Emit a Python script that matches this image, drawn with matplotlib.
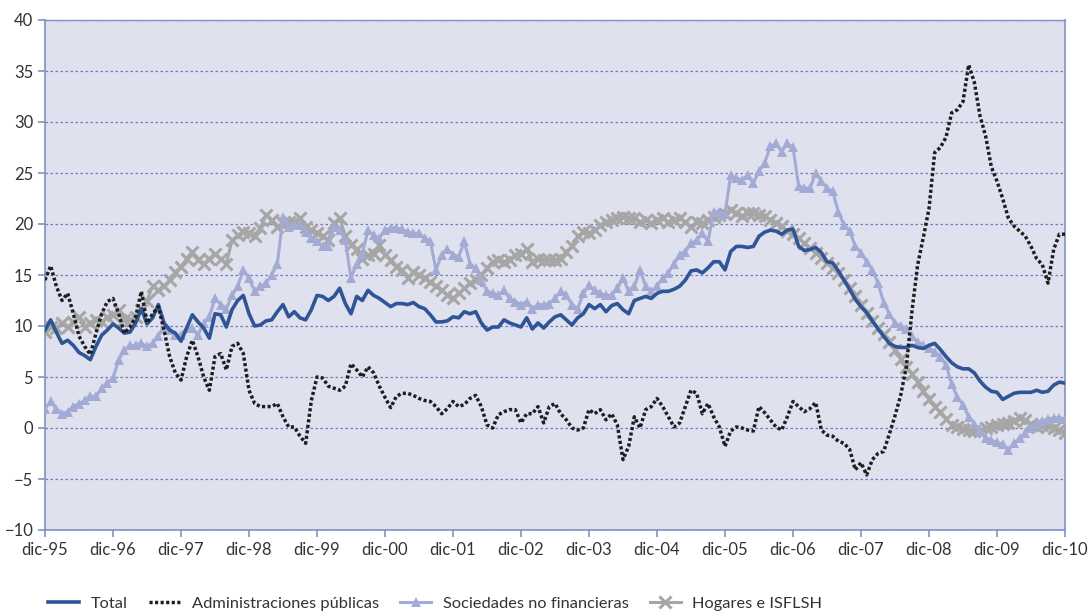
import matplotlib
matplotlib.use("Agg")
import matplotlib.pyplot as plt
import numpy as np

# Monthly growth rates (%), Dec-1995 .. Dec-2010
total = [
    9.6, 10.6, 9.4, 8.3, 8.6, 8.1, 7.4, 7.1, 6.7, 8.0, 9.1, 9.6,
    10.2, 9.8, 9.3, 9.4, 10.3, 11.7, 10.2, 10.8, 12.1, 10.3, 9.6, 9.3,
    8.5, 9.8, 11.1, 10.4, 9.8, 8.8, 11.2, 11.1, 9.9, 11.6, 12.5, 13.0,
    11.2, 10.0, 10.1, 10.5, 10.6, 11.4, 12.1, 10.9, 11.4, 10.8, 10.6, 11.6,
    13.0, 12.9, 12.5, 12.9, 13.7, 12.2, 11.2, 12.9, 12.5, 13.5, 13.0, 12.7,
    12.3, 11.9, 12.2, 12.2, 12.1, 12.3, 11.9, 11.7, 11.1, 10.4, 10.4, 10.5,
    10.9, 10.8, 11.4, 11.2, 11.4, 10.3, 9.6, 9.9, 9.9, 10.6, 10.3, 10.1,
    9.9, 10.8, 9.7, 10.3, 9.8, 10.4, 10.9, 11.1, 10.6, 10.1, 10.8, 11.2,
    12.1, 11.7, 12.1, 11.4, 12.0, 12.2, 11.6, 11.2, 12.5, 12.7, 12.9, 12.7,
    13.2, 13.4, 13.4, 13.6, 13.9, 14.5, 15.4, 15.5, 15.2, 15.7, 16.3, 16.3,
    15.5, 17.3, 17.8, 17.8, 17.7, 17.8, 18.8, 19.2, 19.4, 19.3, 19.0, 19.4,
    19.5, 17.8, 17.4, 17.5, 17.7, 17.2, 16.3, 16.2, 15.4, 14.5, 13.6, 12.6,
    11.9, 11.3, 10.5, 9.7, 9.0, 8.3, 8.0, 7.9, 7.9, 8.1, 7.9, 7.8,
    8.1, 8.3, 7.7, 7.0, 6.4, 6.0, 5.8, 5.8, 5.4, 4.6, 4.0, 3.6,
    3.5, 2.8, 3.1, 3.4, 3.5, 3.5, 3.5, 3.7, 3.5, 3.6, 4.2, 4.5,
    4.4,
]

admin_publicas = [
    14.5, 15.9, 13.9, 12.5, 13.2, 11.2, 9.0, 8.0, 7.2, 9.3, 11.2, 12.4,
    12.7, 11.2, 9.3, 9.9, 10.9, 13.4, 10.3, 11.2, 11.9, 9.6, 7.0, 5.4,
    4.7, 7.0, 8.6, 7.0, 5.0, 3.7, 7.0, 7.3, 5.7, 8.0, 8.3, 7.3,
    3.7, 2.4, 2.1, 2.1, 2.1, 2.4, 1.1, 0.1, 0.1, -0.8, -1.5, 2.7,
    5.0, 4.9, 4.1, 3.9, 3.7, 4.1, 6.3, 5.7, 5.0, 6.0, 5.4, 4.1,
    3.0, 2.0, 3.1, 3.4, 3.4, 3.2, 2.9, 2.7, 2.6, 2.1, 1.4, 1.9,
    2.6, 2.1, 2.3, 2.9, 3.2, 2.1, 0.3, 0.0, 1.3, 1.6, 1.8, 1.8,
    0.5, 1.4, 1.4, 2.1, 0.5, 2.1, 2.4, 1.4, 0.8, 0.0, -0.2, 0.0,
    1.8, 1.4, 1.8, 0.8, 1.4, 0.3, -3.1, -1.8, 1.1, 0.0, 1.8, 2.1,
    2.9, 2.1, 1.1, 0.1, 0.5, 2.1, 3.7, 3.4, 1.4, 2.4, 1.1, 0.1,
    -1.8, -0.3, 0.1, 0.0, -0.2, -0.3, 2.1, 1.5, 0.8, 0.1, -0.2, 1.1,
    2.6, 2.1, 1.6, 1.9, 2.5, -0.2, -0.7, -0.8, -1.3, -1.5, -2.1, -4.1,
    -3.4, -4.6, -3.1, -2.5, -2.3, -0.6, 1.2, 3.2, 6.0, 11.5, 16.0, 18.7,
    21.5, 27.0, 27.5, 28.5, 30.9, 31.2, 32.0, 35.6, 33.9, 30.6, 28.6, 25.6,
    24.2, 22.5, 20.6, 19.8, 19.3, 18.8, 17.8, 16.6, 16.0, 14.2, 17.5, 19.0,
    19.0,
]

sociedades = [
    1.9, 2.6, 1.9, 1.4, 1.6, 2.1, 2.4, 2.7, 3.1, 3.1, 3.9, 4.4,
    4.9, 6.7, 7.6, 8.1, 8.1, 8.3, 8.0, 8.3, 9.0, 9.9, 9.6, 9.1,
    9.1, 9.8, 9.8, 9.1, 10.3, 10.9, 12.7, 12.1, 11.7, 13.0, 13.9, 15.5,
    14.7, 13.4, 13.9, 14.2, 15.0, 16.1, 20.7, 19.7, 19.9, 19.9, 19.2, 18.6,
    18.3, 17.8, 17.8, 19.7, 19.4, 18.4, 14.7, 16.1, 17.1, 19.4, 18.9, 18.6,
    19.4, 19.6, 19.6, 19.5, 19.2, 19.1, 19.1, 18.6, 18.3, 15.5, 17.0, 17.5,
    17.0, 16.8, 18.3, 16.1, 15.7, 14.5, 13.4, 13.2, 13.0, 13.5, 12.7, 12.4,
    12.1, 12.4, 11.7, 12.1, 12.1, 12.2, 12.7, 13.4, 13.0, 12.1, 11.7, 13.2,
    14.0, 13.5, 13.2, 13.0, 13.0, 13.7, 14.7, 13.4, 13.9, 15.5, 13.9, 13.4,
    13.9, 14.7, 15.2, 16.1, 17.0, 17.3, 18.1, 18.4, 19.1, 18.3, 21.2, 21.2,
    21.0, 24.8, 24.5, 24.3, 24.8, 24.0, 25.2, 26.0, 27.6, 27.9, 27.1, 27.9,
    27.5, 23.7, 23.5, 23.5, 25.0, 24.2, 23.5, 23.2, 21.2, 19.9, 19.3, 17.8,
    17.2, 16.3, 15.5, 14.2, 12.3, 11.2, 10.3, 10.0, 9.7, 9.0, 8.4, 8.1,
    7.8, 7.5, 7.0, 6.2, 4.3, 3.0, 2.3, 1.1, 0.4, -0.3, -1.0, -1.2,
    -1.4, -1.6, -2.2, -1.5, -1.0, -0.5, 0.0, 0.4, 0.7, 0.9, 1.0, 1.0,
    0.9,
]

hogares = [
    9.4, 9.9, 9.8, 10.3, 9.9, 10.4, 10.9, 9.9, 10.3, 10.6, 10.4, 10.9,
    11.1, 11.6, 10.6, 10.6, 10.9, 11.6, 12.5, 13.9, 13.5, 13.9, 14.5, 15.3,
    15.8, 16.6, 17.3, 16.5, 16.1, 16.6, 17.1, 16.6, 16.1, 18.4, 18.9, 19.2,
    19.1, 18.8, 19.6, 20.9, 20.4, 19.7, 20.1, 20.2, 20.2, 20.6, 19.7, 19.4,
    19.1, 18.8, 18.4, 20.1, 20.6, 18.8, 17.9, 17.5, 16.6, 17.0, 17.1, 17.9,
    17.0, 16.5, 15.8, 15.5, 14.7, 15.3, 15.0, 14.7, 14.3, 13.9, 13.5, 13.0,
    12.7, 13.2, 13.7, 14.2, 14.5, 15.0, 15.7, 16.3, 16.5, 16.3, 16.5, 17.0,
    17.1, 17.5, 16.3, 16.6, 16.5, 16.5, 16.5, 16.6, 17.3, 17.8, 18.8, 19.2,
    19.1, 19.4, 19.9, 20.2, 20.4, 20.6, 20.7, 20.6, 20.6, 20.2, 20.4, 20.1,
    20.4, 20.6, 20.2, 20.4, 20.6, 20.2, 19.7, 20.2, 20.1, 20.4, 20.7, 20.9,
    21.0, 21.4, 21.1, 20.8, 21.1, 21.1, 20.9, 20.8, 20.4, 20.1, 19.8, 19.3,
    19.0, 18.6, 18.1, 17.6, 17.2, 16.7, 16.2, 15.7, 15.2, 14.5, 13.7, 12.9,
    12.1, 11.3, 10.5, 9.8, 9.2, 8.4, 7.6, 6.8, 6.0, 5.3, 4.5, 3.6,
    2.8, 2.1, 1.6, 0.9, 0.3, 0.1, -0.1, -0.2, -0.3, -0.3, 0.0, 0.1,
    0.3, 0.4, 0.5, 0.7, 1.0, 0.8, 0.4, 0.1, 0.3, 0.2, 0.0, -0.2,
    -0.5,
]

tick_labels = ["dic-95", "dic-96", "dic-97", "dic-98", "dic-99", "dic-00",
               "dic-01", "dic-02", "dic-03", "dic-04", "dic-05", "dic-06",
               "dic-07", "dic-08", "dic-09", "dic-10"]
series_names = ["Total", "Administraciones públicas",
                "Sociedades no financieras", "Hogares e ISFLSH"]

plt.rcParams["font.family"] = ["Lato", "DejaVu Sans"]

months = np.arange(len(total))

fig = plt.figure(figsize=(10.9, 6.12), dpi=100)
ax = fig.add_axes([45 / 1090, 1 - 530 / 612, 1020 / 1090, 510 / 612])
ax.set_facecolor("#DFE1EE")

c_total = "#2F5597"
c_soc = "#A3ABD5"
c_hog = "#A6A6A6"
c_adm = "#1E1E1E"

ax.plot(months, hogares, color=c_hog, lw=2.2, marker="x", ms=8, mew=2.2,
        label=series_names[3], zorder=3)
ax.plot(months, sociedades, color=c_soc, lw=2.2, marker="^", ms=7,
        mew=0, label=series_names[2], zorder=4)
ax.plot(months, total, color=c_total, lw=2.6, label=series_names[0], zorder=5)
ax.plot(months, admin_publicas, color=c_adm, lw=2.5, ls=(0, (0.9, 0.7)),
        label=series_names[1], zorder=6)

ax.set_xlim(0, 180)
ax.set_ylim(-10, 40)
ax.set_yticks(np.arange(-10, 41, 5))
ax.set_xticks(np.arange(0, 181, 12))
ax.set_xticklabels(tick_labels)

ax.yaxis.grid(True, color="#6C7CC0", ls=(0, (2, 2)), lw=0.9)
ax.set_axisbelow(True)

spine_c = "#8390C4"
for s in ax.spines.values():
    s.set_color(spine_c)
    s.set_linewidth(1.2)
ax.spines["top"].set_linewidth(1.0)
ax.tick_params(axis="both", colors=spine_c, labelcolor="#333333",
               labelsize=12, length=5, width=1.2, direction="out")

handles, labels = ax.get_legend_handles_labels()
order = [2, 3, 1, 0]
leg = fig.legend([handles[i] for i in order], [labels[i] for i in order],
                 loc="center left", bbox_to_anchor=(0.038, 0.014),
                 ncol=4, frameon=False, fontsize=11.8, handlelength=1.9,
                 columnspacing=1.3, handletextpad=0.7, borderaxespad=0)
for t in leg.get_texts():
    t.set_color("#333333")

fig.savefig("out.png", dpi=100, facecolor="white")
